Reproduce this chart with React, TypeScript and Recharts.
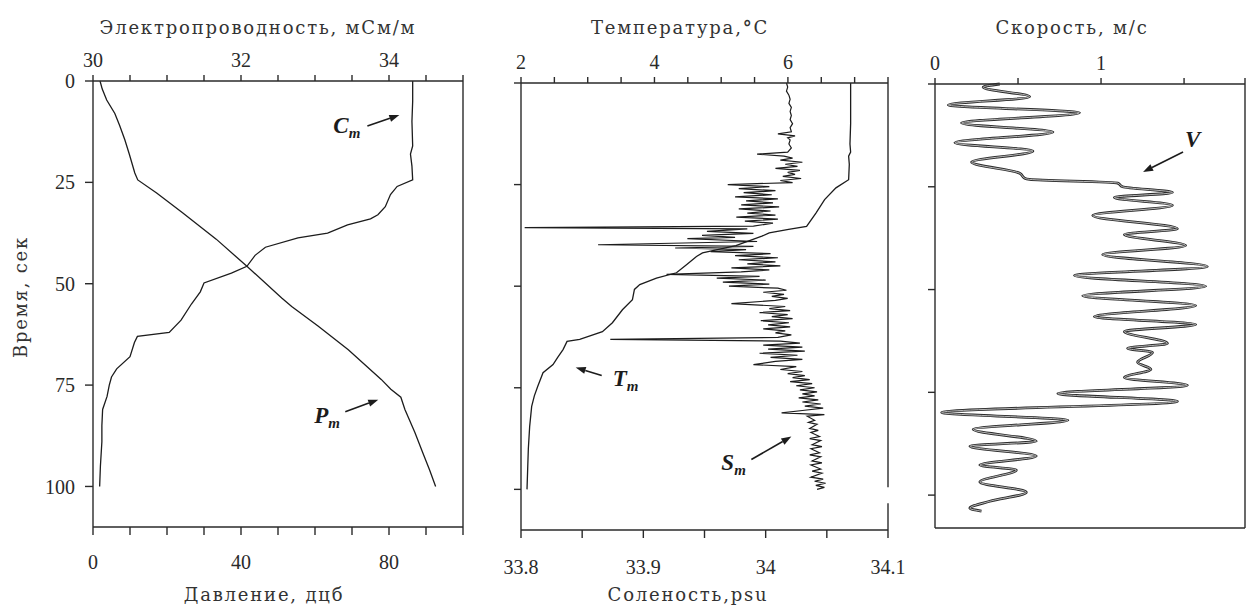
import React from 'react';
import { LineChart, Line, XAxis, YAxis, ReferenceDot, ReferenceLine } from 'recharts';

// time ticks (sec), shared by all three panels
const timeTicks = [0, 25, 50, 75, 100];

// panel 1 axes
const condTicks = [30, 30.5, 31, 31.5, 32, 32.5, 33, 33.5, 34, 34.5, 35];
const condLabels = [30, 32, 34];
const presTicks = [0, 10, 20, 30, 40, 50, 60, 70, 80, 90, 100];
const presLabels = [0, 40, 80];

// panel 2 axes
const tempTicks = [2, 2.5, 3, 3.5, 4, 4.5, 5, 5.5, 6, 6.5, 7, 7.5];
const tempLabels = [2, 4, 6];
const salTicks = [33.8, 33.85, 33.9, 33.95, 34, 34.05, 34.1];
const salLabels = [33.8, 33.9, 34, 34.1];

// panel 3 axes
const speedTicks = [0, 0.5, 1, 1.5, 1.867];
const speedLabels = [0, 1];

// C_m, conductivity
const condTime = [0, 5, 10, 16, 18, 21, 24.4, 26, 28, 31, 33, 34, 35.5, 37.5, 38.7, 41, 43, 45.7, 47.4, 49.8, 52, 55, 59, 62, 63, 64.5, 68, 71, 73, 75, 77.8, 81, 85, 89, 95, 100];
const condValue = [34.32, 34.32, 34.31, 34.32, 34.29, 34.31, 34.32, 34.11, 34.02, 33.95, 33.85, 33.75, 33.44, 33.17, 32.77, 32.33, 32.19, 32.08, 31.87, 31.5, 31.45, 31.33, 31.19, 31.03, 30.6, 30.56, 30.5, 30.32, 30.25, 30.22, 30.19, 30.13, 30.12, 30.12, 30.1, 30.09];

// P_m, pressure
const presTime = [0, 2, 4.7, 8, 11, 14.5, 18, 22.7, 24.4, 27.6, 32.5, 39, 45.7, 53.5, 55.6, 60.5, 66.3, 73.6, 76, 78, 81, 86.7, 91.6, 96, 100];
const presValue = [1.9, 2.5, 3.7, 5.9, 7.2, 8.6, 9.8, 11.3, 12.1, 17.2, 24.2, 33.3, 41.6, 51, 53.7, 60.9, 69, 77.9, 80.5, 83.2, 84.3, 87, 89.1, 91, 92.6];

// T_m, temperature
const tempTime = [0, 5, 10, 15, 17, 18, 20, 23.8, 25.8, 28.7, 32, 35.3, 36, 36.9, 37.7, 40, 41.8, 42.7, 44.7, 46.7, 48, 49.6, 50.8, 53.3, 55.8, 59, 61.2, 63.1, 63.6, 65.6, 67.5, 69.3, 71.3, 74.7, 77, 79.6, 84.5, 90, 95, 100];
const tempValue = [6.94, 6.94, 6.94, 6.93, 6.94, 6.91, 6.92, 6.91, 6.72, 6.55, 6.42, 6.28, 6.01, 5.72, 5.61, 5.22, 4.72, 4.63, 4.48, 4.33, 4.03, 3.78, 3.7, 3.67, 3.52, 3.37, 3.22, 2.88, 2.69, 2.63, 2.55, 2.48, 2.33, 2.25, 2.2, 2.16, 2.13, 2.11, 2.1, 2.09];

// S_m, salinity
const salTime = [
  0, 1, 2, 3, 4, 5, 6, 7, 8, 9, 10, 11, 12, 12.5, 13, 13.5, 14, 15, 16, 17, 17.5, 18, 18.5, 19, 19.5, 20, 20.5, 21, 21.5, 22, 22.5, 23, 23.5, 24, 24.5,
  25, 25.5, 26, 26.5, 27, 27.5, 28, 28.5, 29, 29.5, 30, 30.5, 31, 31.5, 32, 32.5, 33, 33.5, 34, 34.5, 35.2,
  35.6, 35.9, 36.5, 37, 37.5, 38, 38.3, 39, 39.8, 40.2, 40.6, 41, 41.5, 42, 42.5, 43, 43.5, 44, 44.5, 45, 45.5, 46, 46.5, 47.1, 47.6,
  48, 48.5, 49, 49.5, 50, 50.5, 51, 51.5, 52, 52.5, 53, 53.5, 54.3, 55, 55.5, 56, 56.5, 57, 57.5, 58, 58.5, 59, 59.5, 60, 60.5, 61, 61.5, 62, 62.6,
  63.1, 63.5, 64, 64.5, 65, 65.5, 66, 66.5, 67, 67.5, 68, 68.5, 69.3, 69.8, 70.5, 71, 71.5, 72, 72.5, 73, 73.5, 74, 74.5, 75, 75.5, 76, 76.5,
  77, 77.5, 78, 78.5, 79, 79.5, 80, 80.6, 81.2, 81.6, 82, 83, 83.5, 84, 85, 85.5, 86, 87, 87.5, 88, 89, 89.5, 90, 91, 91.5, 92, 93, 93.5,
  94, 95, 95.5, 96, 97, 97.5, 98, 98.5, 99, 99.5, 100,
];
const salValue = [
  34.017, 34.018, 34.017, 34.019, 34.02, 34.019, 34.021, 34.02, 34.021, 34.02, 34.022, 34.02, 34.021, 34.01, 34.024, 34.018, 34.02, 34.019, 34.021, 34.018, 33.993, 34.015, 34.022, 34.012, 34.03, 34.016, 34.026, 34.008, 34.028, 34.018, 34.024, 34.014, 34.029, 34.012, 34.022,
  33.969, 34.003, 33.978, 34.008, 33.982, 34.005, 33.975, 34.01, 33.984, 34.006, 33.98, 34.011, 33.978, 34.004, 33.985, 34.008, 33.976, 34.01, 33.983, 34.006, 33.99,
  33.803, 33.985, 33.952, 33.99, 33.948, 33.975, 33.936, 33.993, 33.863, 33.99, 33.926, 33.984, 33.955, 34.004, 33.975, 34.01, 33.978, 34.008, 33.985, 34.012, 33.972, 34.003, 33.98, 33.919, 33.995,
  33.96, 34.0, 33.965, 34.003, 33.97, 34.01, 34.017, 33.998, 34.015, 34.005, 34.018, 34.008, 33.972, 34.016, 34.003, 34.02, 33.995, 34.018, 34.005, 34.022, 33.996, 34.019, 34.002, 34.02, 33.998, 34.016, 34.008, 34.021, 34.01,
  33.873, 34.012, 34.028, 33.998, 34.03, 34.002, 34.032, 33.995, 34.026, 34.004, 34.03, 34.008, 33.99, 34.025, 34.012, 34.03, 34.018, 34.032, 34.022, 34.036, 34.02, 34.038, 34.025, 34.04, 34.028, 34.042, 34.03,
  34.04, 34.027, 34.043, 34.03, 34.045, 34.032, 34.047, 34.03, 34.013, 34.048, 34.034, 34.04, 34.035, 34.042, 34.036, 34.043, 34.037, 34.044, 34.036, 34.045, 34.038, 34.046, 34.037, 34.044, 34.036, 34.045, 34.038, 34.046,
  34.037, 34.045, 34.038, 34.046, 34.037, 34.047, 34.04, 34.049, 34.041, 34.048, 34.042,
];

// V, speed
const speedTime = [0, 0.8, 3.1, 5.1, 7, 9.5, 11.7, 14.3, 16.3, 19, 21.7, 22.9, 23.2, 24.1, 25, 26.4, 27.6, 29.5, 32, 35.2, 36.6, 39.3, 41.5, 44.4, 46.6, 49.2, 51.5, 53.9, 56.6, 58.5, 60.2, 63.1, 64.3, 65.3, 67.7, 69.4, 71.4, 73.3, 75.3, 77.2, 79.9, 81.8, 84, 86.9, 88.1, 90.5, 92.7, 93.9, 96.8, 99.3, 101.5, 103.2, 103.9];
const speedValue = [0.39, 0.29, 0.57, 0.08, 0.87, 0.16, 0.71, 0.12, 0.59, 0.22, 0.51, 0.54, 0.57, 1.1, 1.13, 1.43, 1.08, 1.43, 0.95, 1.46, 1.14, 1.51, 1.01, 1.64, 0.84, 1.63, 0.89, 1.57, 0.96, 1.57, 1.14, 1.4, 1.16, 1.31, 1.22, 1.3, 1.14, 1.52, 0.74, 1.46, 0.04, 0.8, 0.23, 0.61, 0.21, 0.61, 0.27, 0.49, 0.27, 0.55, 0.33, 0.21, 0.28];

const toRows = (ts: number[], vs: number[]) => ts.map((t, i) => ({ t, v: vs[i] }));
const condRows = toRows(condTime, condValue);
const presRows = toRows(presTime, presValue);
const tempRows = toRows(tempTime, tempValue);
const salRows = toRows(salTime, salValue);
const speedRows = toRows(speedTime, speedValue);

const INK = '#1c1c1c';
const AXIS = '#2a2a2a';
const tickFont = { fontSize: 20, fontFamily: 'Liberation Serif', fill: '#2a2a2a' };
const pick = (labels: number[]) => (v: number) => (labels.includes(v) ? String(v) : '');
const blank = () => '';

type NoteProps = { cx?: number; cy?: number; dx: number; dy: number; tx: number; ty: number; letter: string; sub?: boolean };

// arrow pointing at (cx, cy) with an italic label like "C_m"
const ArrowNote = ({ cx = 0, cy = 0, dx, dy, tx, ty, letter, sub = true }: NoteProps) => {
  const len = Math.hypot(dx, dy);
  const ux = -dx / len;
  const uy = -dy / len;
  const hl = 10;
  const hw = 3.6;
  const bx = cx - ux * hl;
  const by = cy - uy * hl;
  const pts = `${cx},${cy} ${bx - uy * hw},${by + ux * hw} ${bx + uy * hw},${by - ux * hw}`;
  return (
    <g>
      <line x1={cx + dx} y1={cy + dy} x2={bx} y2={by} stroke={INK} strokeWidth={1.6} />
      <polygon points={pts} fill={INK} />
      <text x={cx + tx} y={cy + ty} fontFamily="Liberation Serif" fontStyle="italic" fontWeight="bold" fontSize={23} fill={INK}>
        {letter}
        {sub && <tspan dy={5} fontSize={15}>m</tspan>}
      </text>
    </g>
  );
};

const titleStyle: React.CSSProperties = {
  position: 'absolute',
  transform: 'translate(-50%, -50%)',
  fontFamily: 'DejaVu Serif',
  fontSize: 18,
  color: '#333',
  whiteSpace: 'nowrap',
  letterSpacing: 1.8,
};

const Title = ({ x, y, children, rotate }: { x: number; y: number; children: React.ReactNode; rotate?: boolean }) => (
  <div style={{ ...titleStyle, left: x, top: y, transform: rotate ? 'translate(-50%, -50%) rotate(-90deg)' : titleStyle.transform }}>
    {children}
  </div>
);

const axisCommon = { stroke: AXIS, strokeWidth: 1.4 };

export default function App() {
  return (
    <div style={{ position: 'absolute', left: 0, top: 0, width: 1247, height: 606, background: '#fff', overflow: 'hidden' }}>
      {/* panel 1: conductivity and pressure */}
      <div style={{ position: 'absolute', left: 0, top: 0 }}>
        <LineChart width={480} height={606} layout="vertical" margin={{ top: 0, right: 16, bottom: 0, left: 0 }}>
          <XAxis xAxisId="top" orientation="top" type="number" domain={[30, 35]} ticks={condTicks} interval={0}
            tickFormatter={pick(condLabels)} height={81} tickSize={6} tickMargin={8} tick={tickFont}
            axisLine={axisCommon} tickLine={axisCommon} />
          <XAxis xAxisId="bot" orientation="bottom" type="number" domain={[0, 100]} ticks={presTicks} interval={0}
            tickFormatter={pick(presLabels)} height={79} tickSize={8} tickMargin={20} tick={tickFont}
            axisLine={axisCommon} tickLine={axisCommon} />
          <YAxis yAxisId="l" dataKey="t" type="number" domain={[0, 110]} ticks={timeTicks} interval={0}
            width={93} tickSize={8} tickMargin={10} tick={tickFont} axisLine={axisCommon} tickLine={axisCommon} />
          <YAxis yAxisId="r" orientation="right" type="number" domain={[0, 110]} width={1}
            tick={false} tickLine={false} axisLine={axisCommon} />
          <Line data={condRows} dataKey="v" xAxisId="top" yAxisId="l" type="linear" dot={false}
            stroke={INK} strokeWidth={1.3} isAnimationActive={false} />
          <Line data={presRows} dataKey="v" xAxisId="bot" yAxisId="l" type="linear" dot={false}
            stroke={INK} strokeWidth={1.3} isAnimationActive={false} />
          <ReferenceDot xAxisId="top" yAxisId="l" x={34.14} y={8.4} r={0}
            shape={(p: any) => <ArrowNote cx={p.cx} cy={p.cy} dx={-32} dy={11} tx={-66} ty={18} letter="C" />} />
          <ReferenceDot xAxisId="bot" yAxisId="l" x={77.1} y={78.6} r={0}
            shape={(p: any) => <ArrowNote cx={p.cx} cy={p.cy} dx={-33} dy={12} tx={-64} ty={23} letter="P" />} />
        </LineChart>
      </div>

      {/* panel 2: temperature and salinity */}
      <div style={{ position: 'absolute', left: 480, top: 0 }}>
        <LineChart width={445} height={606} layout="vertical" margin={{ top: 0, right: 37, bottom: 0, left: 0 }}>
          <XAxis xAxisId="top" orientation="top" type="number" domain={[2, 7.5]} ticks={tempTicks} interval={0}
            tickFormatter={pick(tempLabels)} height={83} tickSize={6} tickMargin={8} tick={tickFont}
            axisLine={axisCommon} tickLine={axisCommon} />
          <XAxis xAxisId="bot" orientation="bottom" type="number" domain={[33.8, 34.1]} ticks={salTicks} interval={0}
            tickFormatter={pick(salLabels)} height={76} tickSize={8} tickMargin={22} tick={tickFont}
            axisLine={axisCommon} tickLine={axisCommon} />
          <YAxis yAxisId="l" dataKey="t" type="number" domain={[0, 110]} ticks={timeTicks} interval={0}
            tickFormatter={blank} width={41} tickSize={7} axisLine={axisCommon} tickLine={axisCommon} />
          <ReferenceLine xAxisId="top" yAxisId="l" segment={[{ x: 7.5, y: 0 }, { x: 7.5, y: 99.5 }]} {...axisCommon} />
          <ReferenceLine xAxisId="top" yAxisId="l" segment={[{ x: 7.5, y: 103.4 }, { x: 7.5, y: 110 }]} {...axisCommon} />
          <Line data={tempRows} dataKey="v" xAxisId="top" yAxisId="l" type="linear" dot={false}
            stroke={INK} strokeWidth={1.3} isAnimationActive={false} />
          <Line data={salRows} dataKey="v" xAxisId="bot" yAxisId="l" type="linear" dot={false}
            stroke={INK} strokeWidth={1.2} isAnimationActive={false} />
          <ReferenceDot xAxisId="top" yAxisId="l" x={2.82} y={70} r={0}
            shape={(p: any) => <ArrowNote cx={p.cx} cy={p.cy} dx={26} dy={8} tx={37} ty={19} letter="T" />} />
          <ReferenceDot xAxisId="bot" yAxisId="l" x={34.021} y={87} r={0}
            shape={(p: any) => <ArrowNote cx={p.cx} cy={p.cy} dx={-40} dy={23} tx={-70} ty={33} letter="S" />} />
        </LineChart>
      </div>

      {/* panel 3: speed */}
      <div style={{ position: 'absolute', left: 900, top: 0 }}>
        <LineChart width={347} height={606} layout="vertical" margin={{ top: 0, right: 1, bottom: 0, left: 0 }}>
          <XAxis xAxisId="top" orientation="top" type="number" domain={[0, 1.867]} ticks={speedTicks} interval={0}
            tickFormatter={pick(speedLabels)} height={84} tickSize={6} tickMargin={8} tick={tickFont}
            axisLine={axisCommon} tickLine={axisCommon} />
          <XAxis xAxisId="bot" orientation="bottom" type="number" domain={[0, 1.867]} ticks={[0, 1.867]} interval={0}
            tickFormatter={blank} height={78} tickSize={9} axisLine={axisCommon} tickLine={axisCommon} />
          <YAxis yAxisId="l" dataKey="t" type="number" domain={[0, 108]} ticks={timeTicks} interval={0}
            tickFormatter={blank} width={35} tickSize={7} axisLine={axisCommon} tickLine={axisCommon} />
          <YAxis yAxisId="r" orientation="right" type="number" domain={[0, 108]} width={1}
            tick={false} tickLine={false} axisLine={axisCommon} />
          <Line data={speedRows} dataKey="v" xAxisId="top" yAxisId="l" type="monotone" dot={false}
            stroke="#2b2b2b" strokeWidth={2.8} isAnimationActive={false} />
          <Line data={speedRows} dataKey="v" xAxisId="top" yAxisId="l" type="monotone" dot={false}
            stroke="#c8c8c8" strokeWidth={0.9} isAnimationActive={false} />
          <ReferenceDot xAxisId="top" yAxisId="l" x={1.253} y={21.4} r={0}
            shape={(p: any) => <ArrowNote cx={p.cx} cy={p.cy} dx={40} dy={-20} tx={42} ty={-25} letter="V" sub={false} />} />
        </LineChart>
      </div>

      <Title x={258} y={27}>Электропроводность, мСм/м</Title>
      <Title x={264} y={594}>Давление, дцб</Title>
      <Title x={680} y={27}>Температура,<b>°</b>C</Title>
      <Title x={688} y={594}>Соленость,psu</Title>
      <Title x={1072} y={27}>Скорость, м/с</Title>
      <Title x={20} y={297} rotate>Время, сек</Title>
    </div>
  );
}
